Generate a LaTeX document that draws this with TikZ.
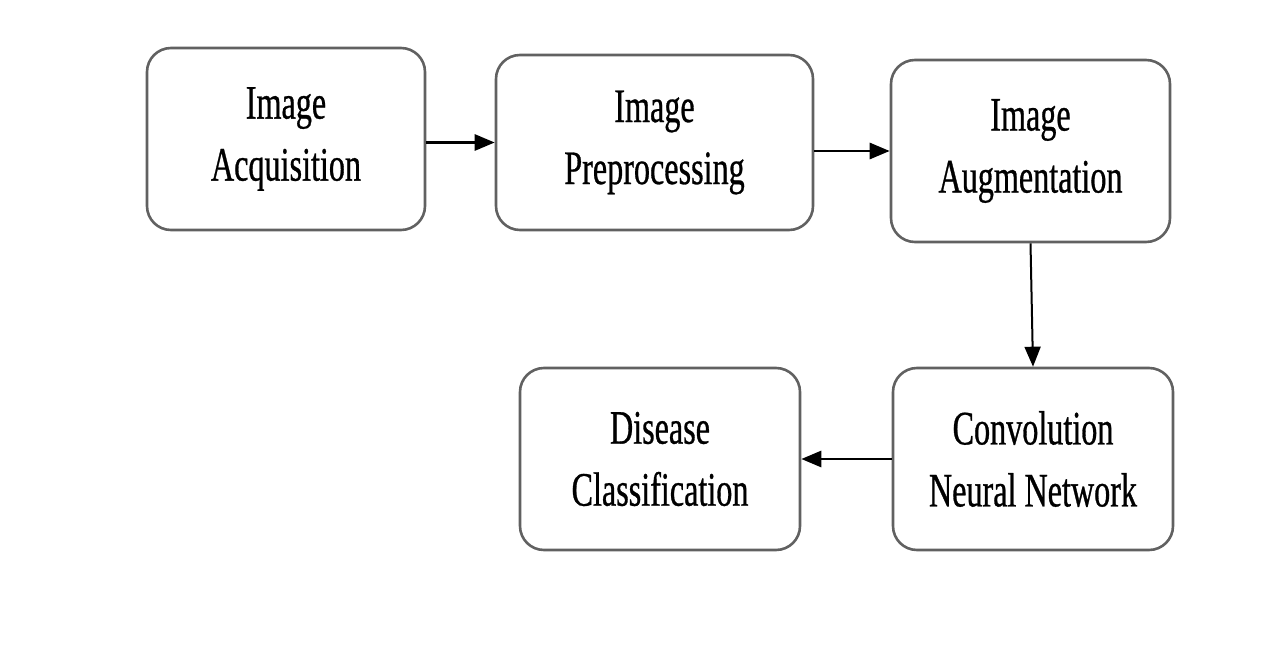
\documentclass[tikz,border=0pt]{standalone}
\usepackage{fontspec}
\newfontfamily\boxfont[FakeStretch=0.67,FakeBold=0.6]{Liberation Serif}
\usetikzlibrary{arrows.meta}

\begin{document}
\begin{tikzpicture}[x=0.5pt,y=-0.5pt,>={Triangle[length=10pt,width=8pt]},
  stage/.style={draw=black!62,line width=1.3pt,rounded corners=12pt,fill=white,
    align=center,inner sep=0pt,
    font=\boxfont\fontsize{24}{31}\selectfont},
  flow/.style={->,line width=1.4pt}]
 \useasboundingbox (0,0) rectangle (1284,647);
 \node[stage,minimum width=139pt,minimum height=91pt] (acq) at (286,139)
   {Image\\Acquisition};
 \node[stage,minimum width=158.5pt,minimum height=87.5pt] (pre) at (654.5,142.5)
   {Image\\Preprocessing};
 \node[stage,minimum width=139.5pt,minimum height=91pt] (aug) at (1030.5,151)
   {Image\\Augmentation};
 \node[stage,minimum width=140pt,minimum height=91pt] (cnn) at (1033,459)
   {Convolution\\Neural Network};
 \node[stage,minimum width=140pt,minimum height=91pt] (dis) at (660,459)
   {Disease\\Classification};
 \draw[flow] (acq.east |- pre.west) -- (pre.west);
 \draw[flow] (pre.east |- aug.west) -- (aug.west);
 \draw[flow,line width=1pt] (aug.south) -- (cnn.north);
 \draw[flow] (cnn.west) -- (dis.east);
\end{tikzpicture}
\end{document}
